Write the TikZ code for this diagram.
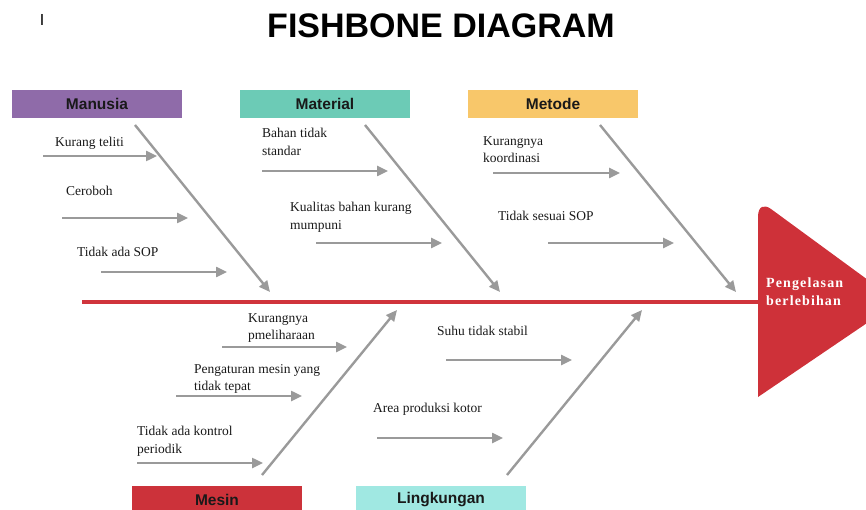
\documentclass[tikz,border=0pt]{standalone}
\usepackage{fontspec}
\setmainfont{Liberation Serif}
\newfontfamily\arialfont{Liberation Sans}
\newfontfamily\headfont[LetterSpace=8]{Liberation Serif}
\usetikzlibrary{arrows.meta}
\definecolor{bonegray}{HTML}{9A9A9A}
\definecolor{spinered}{HTML}{D0343C}
\definecolor{headred}{HTML}{CE3139}
\definecolor{cManusia}{HTML}{8F6BA9}
\definecolor{cMaterial}{HTML}{6CCBB6}
\definecolor{cMetode}{HTML}{F8C76A}
\definecolor{cMesin}{HTML}{CC323A}
\definecolor{cLingkungan}{HTML}{A0E8E2}
\tikzset{
  catbox/.style={minimum width=170pt,minimum height=28pt,inner sep=0pt,
    font=\arialfont\bfseries\fontsize{15.5}{17}\selectfont,text=black!90},
  cause/.style={anchor=north west,inner sep=0pt,align=left,
    font=\fontsize{13.5}{17.5}\selectfont,text=black!90},
  bone/.style={draw=bonegray,line width=2.4pt,-{Triangle[length=11pt,width=10pt]}},
  subbone/.style={draw=bonegray,line width=2.4pt,-{Triangle[length=11pt,width=10pt]}}
}
\begin{document}
\begin{tikzpicture}[x=1pt,y=-1pt]
\useasboundingbox (0,0) rectangle (866,510);
\clip (0,0) rectangle (866,510);
% title
\node[anchor=base,inner sep=0pt,font=\arialfont\bfseries\fontsize{34}{40}\selectfont] (title) at (441,38) {FISHBONE DIAGRAM};
\node[anchor=base,inner sep=0pt,font=\arialfont\fontsize{16}{18}\selectfont] (cursor) at (42,26) {I};
% category boxes
\node[catbox,fill=cManusia] (manusia) at (97,104) {Manusia};
\node[catbox,fill=cMaterial] (material) at (325,104) {Material};
\node[catbox,fill=cMetode] (metode) at (553,104) {Metode};
\node[catbox,fill=cMesin] (mesin) at (217,500) {Mesin};
\node[catbox,fill=cLingkungan] (lingkungan) at (441,500) {Lingkungan};
% head
\fill[headred] (758,397) -- (758,217) .. controls (758,206) and (764,204) .. (771,209) -- (898,302) -- cycle;
\node[anchor=north west,inner sep=0pt,align=left,text=white,
  font=\headfont\bfseries\fontsize{14}{18}\selectfont] (effect) at (766,278) {Pengelasan\\berlebihan};
% spine
\coordinate (tail) at (82,302);
\coordinate (headjoin) at (760,302);
\draw[spinered,line width=4pt] (tail) -- (headjoin);
% main bones
\coordinate (b1s) at (135,125); \coordinate (b1e) at (270,292);
\coordinate (b2s) at (365,125); \coordinate (b2e) at (500,292);
\coordinate (b3s) at (600,125); \coordinate (b3e) at (736,292);
\coordinate (b4s) at (262,475); \coordinate (b4e) at (397,310);
\coordinate (b5s) at (507,475); \coordinate (b5e) at (642,310);
\draw[bone] (b1s) -- (b1e);
\draw[bone] (b2s) -- (b2e);
\draw[bone] (b3s) -- (b3e);
\draw[bone] (b4s) -- (b4e);
\draw[bone] (b5s) -- (b5e);
% Manusia causes
\node[cause] (c1) at (55,137) {Kurang teliti};
\coordinate (a1s) at (43,156); \coordinate (a1e) at (157,156);
\draw[subbone] (a1s) -- (a1e);
\node[cause] (c2) at (66,186) {Ceroboh};
\coordinate (a2s) at (62,218); \coordinate (a2e) at (188,218);
\draw[subbone] (a2s) -- (a2e);
\node[cause] (c3) at (77,247) {Tidak ada SOP};
\coordinate (a3s) at (101,272); \coordinate (a3e) at (227,272);
\draw[subbone] (a3s) -- (a3e);
% Material causes
\node[cause] (c4) at (262,128) {Bahan tidak\\standar};
\coordinate (a4s) at (262,171); \coordinate (a4e) at (388,171);
\draw[subbone] (a4s) -- (a4e);
\node[cause] (c5) at (290,202) {Kualitas bahan kurang\\mumpuni};
\coordinate (a5s) at (316,243); \coordinate (a5e) at (442,243);
\draw[subbone] (a5s) -- (a5e);
% Metode causes
\node[cause] (c6) at (483,136) {Kurangnya\\koordinasi};
\coordinate (a6s) at (493,173); \coordinate (a6e) at (620,173);
\draw[subbone] (a6s) -- (a6e);
\node[cause] (c7) at (498,211) {Tidak sesuai SOP};
\coordinate (a7s) at (548,243); \coordinate (a7e) at (674,243);
\draw[subbone] (a7s) -- (a7e);
% Mesin causes
\node[cause] (c8) at (248,313) {Kurangnya\\pmeliharaan};
\coordinate (a8s) at (222,347); \coordinate (a8e) at (347,347);
\draw[subbone] (a8s) -- (a8e);
\node[cause] (c9) at (194,364) {Pengaturan mesin yang\\tidak tepat};
\coordinate (a9s) at (176,396); \coordinate (a9e) at (302,396);
\draw[subbone] (a9s) -- (a9e);
\node[cause] (c10) at (137,426) {Tidak ada kontrol\\periodik};
\coordinate (a10s) at (137,463); \coordinate (a10e) at (263,463);
\draw[subbone] (a10s) -- (a10e);
% Lingkungan causes
\node[cause] (c11) at (437,326) {Suhu tidak stabil};
\coordinate (a11s) at (446,360); \coordinate (a11e) at (572,360);
\draw[subbone] (a11s) -- (a11e);
\node[cause] (c12) at (373,403) {Area produksi kotor};
\coordinate (a12s) at (377,438); \coordinate (a12e) at (503,438);
\draw[subbone] (a12s) -- (a12e);
\end{tikzpicture}
\end{document}
